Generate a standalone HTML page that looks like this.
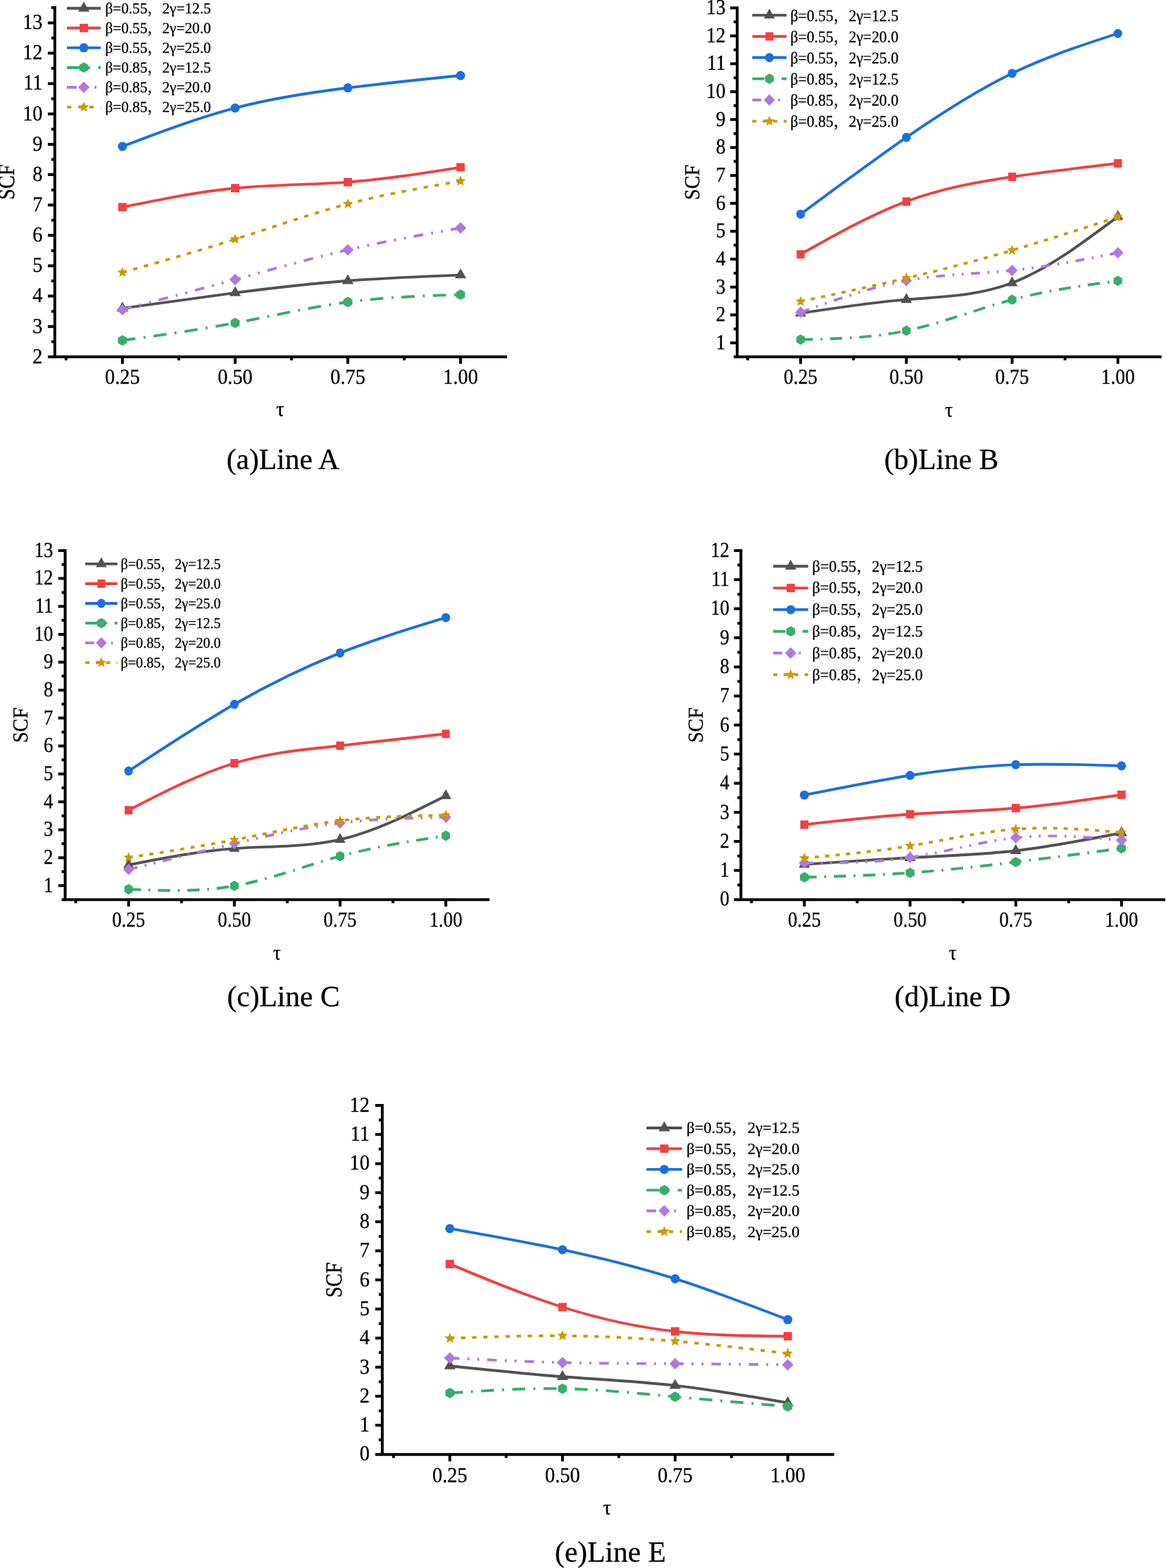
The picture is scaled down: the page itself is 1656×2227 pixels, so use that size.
<!DOCTYPE html>
<html lang="en">
<head>
<meta charset="utf-8">
<title>SCF versus τ along Lines A–E</title>
<style>
html,body{margin:0;padding:0;background:#fff;}
svg{display:block;font-family:"Liberation Serif","Noto Serif CJK SC","Noto Sans CJK SC",serif;fill:#000;}
text{stroke:#000;stroke-width:0.3px;stroke-linejoin:round;text-rendering:geometricPrecision;}
</style>
</head>
<body>
<svg width="1656" height="2227" viewBox="0 0 1656 2227">
<rect width="1656" height="2227" fill="#fff"/>
<g id="chart-a">
<path d="M173.89,437.9C227.25,430.33 280.61,422.76 333.97,415.9C387.33,409.04 440.69,402.9 494.04,398.8C547.4,394.7 600.76,392.65 654.12,390.6" fill="none" stroke="#515151" stroke-width="3.9"/>
<polygon points="173.89,428.49 182.04,442.61 165.74,442.61" fill="#515151"/>
<polygon points="333.97,406.49 342.12,420.61 325.82,420.61" fill="#515151"/>
<polygon points="494.04,389.39 502.19,403.51 485.89,403.51" fill="#515151"/>
<polygon points="654.12,381.19 662.27,395.31 645.97,395.31" fill="#515151"/>
<path d="M173.89,294.2C227.25,283.29 280.61,272.38 333.97,267.2C387.33,262.02 440.69,262.58 494.04,258.6C547.4,254.62 600.76,246.11 654.12,237.6" fill="none" stroke="#F14040" stroke-width="3.9"/>
<polygon points="167.94,288.25 179.84,288.25 179.84,300.15 167.94,300.15" fill="#F14040"/>
<polygon points="328.02,261.25 339.92,261.25 339.92,273.15 328.02,273.15" fill="#F14040"/>
<polygon points="488.09,252.65 499.99,252.65 499.99,264.55 488.09,264.55" fill="#F14040"/>
<polygon points="648.17,231.65 660.07,231.65 660.07,243.55 648.17,243.55" fill="#F14040"/>
<path d="M173.89,208C227.25,187.74 280.61,167.47 333.97,153.4C387.33,139.33 440.69,131.45 494.04,124.8C547.4,118.15 600.76,112.72 654.12,107.3" fill="none" stroke="#1A6FDF" stroke-width="3.9"/>
<ellipse cx="173.89" cy="208" rx="6.5" ry="6.5" fill="#1A6FDF"/>
<ellipse cx="333.97" cy="153.4" rx="6.5" ry="6.5" fill="#1A6FDF"/>
<ellipse cx="494.04" cy="124.8" rx="6.5" ry="6.5" fill="#1A6FDF"/>
<ellipse cx="654.12" cy="107.3" rx="6.5" ry="6.5" fill="#1A6FDF"/>
<path d="M173.89,483.5C227.25,476.1 280.61,468.69 333.97,458.7C387.33,448.71 440.69,436.13 494.04,429C547.4,421.87 600.76,420.18 654.12,418.5" fill="none" stroke="#37AD6B" stroke-width="3.9" stroke-dasharray="18.6 11.6 2.8 11.6"/>
<polygon points="173.89,476.1 180.3,479.8 180.3,487.2 173.89,490.9 167.49,487.2 167.49,479.8" fill="#37AD6B"/>
<polygon points="333.97,451.3 340.38,455 340.38,462.4 333.97,466.1 327.56,462.4 327.56,455" fill="#37AD6B"/>
<polygon points="494.04,421.6 500.45,425.3 500.45,432.7 494.04,436.4 487.64,432.7 487.64,425.3" fill="#37AD6B"/>
<polygon points="654.12,411.1 660.53,414.8 660.53,422.2 654.12,425.9 647.71,422.2 647.71,414.8" fill="#37AD6B"/>
<path d="M173.89,439.9C227.25,425.77 280.61,411.65 333.97,397C387.33,382.35 440.69,367.19 494.04,354.9C547.4,342.61 600.76,333.21 654.12,323.8" fill="none" stroke="#B177DE" stroke-width="3.9" stroke-dasharray="13.7 11.35 2.8 11.35 2.8 11.35"/>
<polygon points="173.89,431.7 182.09,439.9 173.89,448.1 165.69,439.9" fill="#B177DE"/>
<polygon points="333.97,388.8 342.17,397 333.97,405.2 325.77,397" fill="#B177DE"/>
<polygon points="494.04,346.7 502.24,354.9 494.04,363.1 485.84,354.9" fill="#B177DE"/>
<polygon points="654.12,315.6 662.32,323.8 654.12,332 645.92,323.8" fill="#B177DE"/>
<path d="M173.89,387C227.25,371.91 280.61,356.83 333.97,339.8C387.33,322.77 440.69,303.81 494.04,289.7C547.4,275.59 600.76,266.35 654.12,257.1" fill="none" stroke="#CC9900" stroke-width="3.9" stroke-dasharray="6.3 9.58"/>
<polygon points="173.89,379.1 175.98,384.12 181.41,384.56 177.28,388.1 178.54,393.39 173.89,390.56 169.25,393.39 170.51,388.1 166.38,384.56 171.81,384.12" fill="#CC9900"/>
<polygon points="333.97,331.9 336.06,336.92 341.48,337.36 337.35,340.9 338.61,346.19 333.97,343.36 329.33,346.19 330.59,340.9 326.46,337.36 331.88,336.92" fill="#CC9900"/>
<polygon points="494.04,281.8 496.13,286.82 501.56,287.26 497.43,290.8 498.69,296.09 494.04,293.25 489.4,296.09 490.66,290.8 486.53,287.26 491.96,286.82" fill="#CC9900"/>
<polygon points="654.12,249.2 656.21,254.22 661.63,254.66 657.5,258.2 658.76,263.49 654.12,260.66 649.48,263.49 650.74,258.2 646.61,254.66 652.03,254.22" fill="#CC9900"/>
<g stroke="#000" stroke-width="4" fill="none">
<path d="M77.85,8.86 V506.85 H720.15"/>
<path d="M77.85,506.85 h-9.9M77.85,485.29 h-5M77.85,463.72 h-9.9M77.85,442.16 h-5M77.85,420.59 h-9.9M77.85,399.03 h-5M77.85,377.46 h-9.9M77.85,355.89 h-5M77.85,334.33 h-9.9M77.85,312.76 h-5M77.85,291.2 h-9.9M77.85,269.63 h-5M77.85,248.07 h-9.9M77.85,226.5 h-5M77.85,204.94 h-9.9M77.85,183.38 h-5M77.85,161.81 h-9.9M77.85,140.25 h-5M77.85,118.68 h-9.9M77.85,97.12 h-5M77.85,75.55 h-9.9M77.85,53.99 h-5M77.85,32.42 h-9.9M77.85,10.86 h-5M93.86,506.85 v5M173.89,506.85 v9.9M253.93,506.85 v5M333.97,506.85 v9.9M414.01,506.85 v5M494.04,506.85 v9.9M574.08,506.85 v5M654.12,506.85 v9.9"/>
</g>
<text transform="translate(60.5,515.65) scale(0.9350,1)" font-size="30.3" text-anchor="end">2</text>
<text transform="translate(60.5,472.52) scale(0.9350,1)" font-size="30.3" text-anchor="end">3</text>
<text transform="translate(60.5,429.39) scale(0.9350,1)" font-size="30.3" text-anchor="end">4</text>
<text transform="translate(60.5,386.26) scale(0.9350,1)" font-size="30.3" text-anchor="end">5</text>
<text transform="translate(60.5,343.13) scale(0.9350,1)" font-size="30.3" text-anchor="end">6</text>
<text transform="translate(60.5,300) scale(0.9350,1)" font-size="30.3" text-anchor="end">7</text>
<text transform="translate(60.5,256.87) scale(0.9350,1)" font-size="30.3" text-anchor="end">8</text>
<text transform="translate(60.5,213.74) scale(0.9350,1)" font-size="30.3" text-anchor="end">9</text>
<text transform="translate(60.5,170.61) scale(0.9350,1)" font-size="30.3" text-anchor="end">10</text>
<text transform="translate(60.5,127.48) scale(0.9350,1)" font-size="30.3" text-anchor="end">11</text>
<text transform="translate(60.5,84.35) scale(0.9350,1)" font-size="30.3" text-anchor="end">12</text>
<text transform="translate(60.5,41.22) scale(0.9350,1)" font-size="30.3" text-anchor="end">13</text>
<text transform="translate(173.89,545.3) scale(0.9350,1)" font-size="30.3" text-anchor="middle">0.25</text>
<text transform="translate(333.97,545.3) scale(0.9350,1)" font-size="30.3" text-anchor="middle">0.50</text>
<text transform="translate(494.04,545.3) scale(0.9350,1)" font-size="30.3" text-anchor="middle">0.75</text>
<text transform="translate(654.12,545.3) scale(0.9350,1)" font-size="30.3" text-anchor="middle">1.00</text>
<text transform="translate(398,591.4) scale(0.9350,1)" font-size="30.3" text-anchor="middle">τ</text>
<text transform="translate(20.3,258.6) rotate(-90) scale(0.9300,1.0700)" font-size="30.3" text-anchor="middle">SCF</text>
<text x="401.8" y="665.7" font-size="41.5" text-anchor="middle">(a)Line A</text>
<path d="M95,11.7 H143.1" fill="none" stroke="#515151" stroke-width="3.9"/>
<polygon points="119.05,2.29 127.2,16.41 110.9,16.41" fill="#515151"/>
<text transform="translate(149.4,18.95) scale(0.9780,1)" font-size="21.7" text-anchor="start">β=0.55，2γ=12.5</text>
<path d="M95,39.78 H143.1" fill="none" stroke="#F14040" stroke-width="3.9"/>
<polygon points="113.1,33.83 125,33.83 125,45.73 113.1,45.73" fill="#F14040"/>
<text transform="translate(149.4,47.03) scale(0.9780,1)" font-size="21.7" text-anchor="start">β=0.55，2γ=20.0</text>
<path d="M95,67.86 H143.1" fill="none" stroke="#1A6FDF" stroke-width="3.9"/>
<ellipse cx="119.05" cy="67.86" rx="6.5" ry="6.5" fill="#1A6FDF"/>
<text transform="translate(149.4,75.11) scale(0.9780,1)" font-size="21.7" text-anchor="start">β=0.55，2γ=25.0</text>
<path d="M95,95.94 H143.1" fill="none" stroke="#37AD6B" stroke-width="3.9" stroke-dasharray="18.6 11.6 2.8 11.6"/>
<polygon points="119.05,88.54 125.46,92.24 125.46,99.64 119.05,103.34 112.64,99.64 112.64,92.24" fill="#37AD6B"/>
<text transform="translate(149.4,103.19) scale(0.9780,1)" font-size="21.7" text-anchor="start">β=0.85，2γ=12.5</text>
<path d="M95,124.02 H143.1" fill="none" stroke="#B177DE" stroke-width="3.9" stroke-dasharray="13.7 11.35 2.8 11.35 2.8 11.35"/>
<polygon points="119.05,115.82 127.25,124.02 119.05,132.22 110.85,124.02" fill="#B177DE"/>
<text transform="translate(149.4,131.27) scale(0.9780,1)" font-size="21.7" text-anchor="start">β=0.85，2γ=20.0</text>
<path d="M95,152.1 H143.1" fill="none" stroke="#CC9900" stroke-width="3.9" stroke-dasharray="6.3 9.58"/>
<polygon points="119.05,144.2 121.14,149.22 126.56,149.66 122.43,153.2 123.69,158.49 119.05,155.65 114.41,158.49 115.67,153.2 111.54,149.66 116.96,149.22" fill="#CC9900"/>
<text transform="translate(149.4,159.35) scale(0.9780,1)" font-size="21.7" text-anchor="start">β=0.85，2γ=25.0</text>
</g>
<g id="chart-b">
<path d="M1137.07,444.9C1187.14,437.25 1237.2,429.6 1287.27,425.5C1337.34,421.4 1387.4,420.86 1437.47,401.8C1487.54,382.74 1537.6,345.17 1587.67,307.6" fill="none" stroke="#515151" stroke-width="3.9"/>
<polygon points="1137.07,435.49 1144.81,449.61 1129.33,449.61" fill="#515151"/>
<polygon points="1287.27,416.09 1295.01,430.21 1279.53,430.21" fill="#515151"/>
<polygon points="1437.47,392.39 1445.21,406.51 1429.73,406.51" fill="#515151"/>
<polygon points="1587.67,298.19 1595.41,312.31 1579.93,312.31" fill="#515151"/>
<path d="M1137.07,361.2C1187.14,333.01 1237.2,304.82 1287.27,286.2C1337.34,267.58 1387.4,258.54 1437.47,251.1C1487.54,243.66 1537.6,237.83 1587.67,232" fill="none" stroke="#F14040" stroke-width="3.9"/>
<polygon points="1131.42,355.25 1142.72,355.25 1142.72,367.15 1131.42,367.15" fill="#F14040"/>
<polygon points="1281.62,280.25 1292.92,280.25 1292.92,292.15 1281.62,292.15" fill="#F14040"/>
<polygon points="1431.82,245.15 1443.12,245.15 1443.12,257.05 1431.82,257.05" fill="#F14040"/>
<polygon points="1582.02,226.05 1593.32,226.05 1593.32,237.95 1582.02,237.95" fill="#F14040"/>
<path d="M1137.07,304.2C1187.14,266.98 1237.2,229.75 1287.27,195.1C1337.34,160.45 1387.4,128.37 1437.47,104.2C1487.54,80.03 1537.6,63.76 1587.67,47.5" fill="none" stroke="#1A6FDF" stroke-width="3.9"/>
<ellipse cx="1137.07" cy="304.2" rx="6.17" ry="6.5" fill="#1A6FDF"/>
<ellipse cx="1287.27" cy="195.1" rx="6.17" ry="6.5" fill="#1A6FDF"/>
<ellipse cx="1437.47" cy="104.2" rx="6.17" ry="6.5" fill="#1A6FDF"/>
<ellipse cx="1587.67" cy="47.5" rx="6.17" ry="6.5" fill="#1A6FDF"/>
<path d="M1137.07,482.3C1187.14,481.27 1237.2,480.25 1287.27,469.7C1337.34,459.15 1387.4,439.09 1437.47,425.7C1487.54,412.31 1537.6,405.61 1587.67,398.9" fill="none" stroke="#37AD6B" stroke-width="3.9" stroke-dasharray="17.39 10.85 2.62 10.85"/>
<polygon points="1137.07,474.9 1143.16,478.6 1143.16,486 1137.07,489.7 1130.98,486 1130.98,478.6" fill="#37AD6B"/>
<polygon points="1287.27,462.3 1293.36,466 1293.36,473.4 1287.27,477.1 1281.18,473.4 1281.18,466" fill="#37AD6B"/>
<polygon points="1437.47,418.3 1443.56,422 1443.56,429.4 1437.47,433.1 1431.38,429.4 1431.38,422" fill="#37AD6B"/>
<polygon points="1587.67,391.5 1593.76,395.2 1593.76,402.6 1587.67,406.3 1581.58,402.6 1581.58,395.2" fill="#37AD6B"/>
<path d="M1137.07,443.6C1187.14,425.61 1237.2,407.63 1287.27,398.5C1337.34,389.37 1387.4,389.11 1437.47,384C1487.54,378.89 1537.6,368.95 1587.67,359" fill="none" stroke="#B177DE" stroke-width="3.9" stroke-dasharray="12.81 10.61 2.62 10.61 2.62 10.61"/>
<polygon points="1137.07,435.4 1144.86,443.6 1137.07,451.8 1129.28,443.6" fill="#B177DE"/>
<polygon points="1287.27,390.3 1295.06,398.5 1287.27,406.7 1279.48,398.5" fill="#B177DE"/>
<polygon points="1437.47,375.8 1445.26,384 1437.47,392.2 1429.68,384" fill="#B177DE"/>
<polygon points="1587.67,350.8 1595.46,359 1587.67,367.2 1579.88,359" fill="#B177DE"/>
<path d="M1137.07,428.1C1187.14,417.46 1237.2,406.82 1287.27,395C1337.34,383.18 1387.4,370.18 1437.47,355.5C1487.54,340.82 1537.6,324.46 1587.67,308.1" fill="none" stroke="#CC9900" stroke-width="3.9" stroke-dasharray="5.89 8.96"/>
<polygon points="1137.07,420.2 1139.06,425.22 1144.21,425.66 1140.28,429.2 1141.48,434.49 1137.07,431.66 1132.66,434.49 1133.86,429.2 1129.93,425.66 1135.08,425.22" fill="#CC9900"/>
<polygon points="1287.27,387.1 1289.26,392.12 1294.41,392.56 1290.48,396.1 1291.68,401.39 1287.27,398.56 1282.86,401.39 1284.06,396.1 1280.13,392.56 1285.28,392.12" fill="#CC9900"/>
<polygon points="1437.47,347.6 1439.46,352.62 1444.61,353.06 1440.68,356.6 1441.88,361.89 1437.47,359.06 1433.06,361.89 1434.26,356.6 1430.33,353.06 1435.48,352.62" fill="#CC9900"/>
<polygon points="1587.67,300.2 1589.66,305.22 1594.81,305.66 1590.88,309.2 1592.08,314.49 1587.67,311.66 1583.26,314.49 1584.46,309.2 1580.53,305.66 1585.68,305.22" fill="#CC9900"/>
<g stroke="#000" stroke-width="4" fill="none">
<path d="M1046.95,9.3 V506.8 H1649.75"/>
<path d="M1046.95,506.8 h-5M1046.95,486.98 h-9.9M1046.95,467.16 h-5M1046.95,447.34 h-9.9M1046.95,427.52 h-5M1046.95,407.7 h-9.9M1046.95,387.88 h-5M1046.95,368.06 h-9.9M1046.95,348.24 h-5M1046.95,328.42 h-9.9M1046.95,308.6 h-5M1046.95,288.78 h-9.9M1046.95,268.96 h-5M1046.95,249.14 h-9.9M1046.95,229.32 h-5M1046.95,209.5 h-9.9M1046.95,189.68 h-5M1046.95,169.86 h-9.9M1046.95,150.04 h-5M1046.95,130.22 h-9.9M1046.95,110.4 h-5M1046.95,90.58 h-9.9M1046.95,70.76 h-5M1046.95,50.94 h-9.9M1046.95,31.12 h-5M1046.95,11.3 h-9.9M1061.97,506.8 v5M1137.07,506.8 v9.9M1212.17,506.8 v5M1287.27,506.8 v9.9M1362.37,506.8 v5M1437.47,506.8 v9.9M1512.57,506.8 v5M1587.67,506.8 v9.9"/>
</g>
<text transform="translate(1030.5,495.78) scale(0.9050,1)" font-size="30.3" text-anchor="end">1</text>
<text transform="translate(1030.5,456.14) scale(0.9050,1)" font-size="30.3" text-anchor="end">2</text>
<text transform="translate(1030.5,416.5) scale(0.9050,1)" font-size="30.3" text-anchor="end">3</text>
<text transform="translate(1030.5,376.86) scale(0.9050,1)" font-size="30.3" text-anchor="end">4</text>
<text transform="translate(1030.5,337.22) scale(0.9050,1)" font-size="30.3" text-anchor="end">5</text>
<text transform="translate(1030.5,297.58) scale(0.9050,1)" font-size="30.3" text-anchor="end">6</text>
<text transform="translate(1030.5,257.94) scale(0.9050,1)" font-size="30.3" text-anchor="end">7</text>
<text transform="translate(1030.5,218.3) scale(0.9050,1)" font-size="30.3" text-anchor="end">8</text>
<text transform="translate(1030.5,178.66) scale(0.9050,1)" font-size="30.3" text-anchor="end">9</text>
<text transform="translate(1030.5,139.02) scale(0.9050,1)" font-size="30.3" text-anchor="end">10</text>
<text transform="translate(1030.5,99.38) scale(0.9050,1)" font-size="30.3" text-anchor="end">11</text>
<text transform="translate(1030.5,59.74) scale(0.9050,1)" font-size="30.3" text-anchor="end">12</text>
<text transform="translate(1030.5,20.1) scale(0.9050,1)" font-size="30.3" text-anchor="end">13</text>
<text transform="translate(1137.07,545.3) scale(0.9050,1)" font-size="30.3" text-anchor="middle">0.25</text>
<text transform="translate(1287.27,545.3) scale(0.9050,1)" font-size="30.3" text-anchor="middle">0.50</text>
<text transform="translate(1437.47,545.3) scale(0.9050,1)" font-size="30.3" text-anchor="middle">0.75</text>
<text transform="translate(1587.67,545.3) scale(0.9050,1)" font-size="30.3" text-anchor="middle">1.00</text>
<text transform="translate(1347.7,592.2) scale(0.9050,1)" font-size="30.3" text-anchor="middle">τ</text>
<text transform="translate(992.9,258.9) rotate(-90) scale(0.9300,1.0000)" font-size="30.3" text-anchor="middle">SCF</text>
<text x="1337" y="665.7" font-size="41.5" text-anchor="middle">(b)Line B</text>
<path d="M1068.4,21.6 H1117.1" fill="none" stroke="#515151" stroke-width="3.9"/>
<polygon points="1092.75,12.19 1100.49,26.31 1085.01,26.31" fill="#515151"/>
<text transform="translate(1122.5,29.5) scale(0.9350,1)" font-size="23.2" text-anchor="start">β=0.55，2γ=12.5</text>
<path d="M1068.4,51.7 H1117.1" fill="none" stroke="#F14040" stroke-width="3.9"/>
<polygon points="1087.1,45.75 1098.4,45.75 1098.4,57.65 1087.1,57.65" fill="#F14040"/>
<text transform="translate(1122.5,59.6) scale(0.9350,1)" font-size="23.2" text-anchor="start">β=0.55，2γ=20.0</text>
<path d="M1068.4,81.8 H1117.1" fill="none" stroke="#1A6FDF" stroke-width="3.9"/>
<ellipse cx="1092.75" cy="81.8" rx="6.17" ry="6.5" fill="#1A6FDF"/>
<text transform="translate(1122.5,89.7) scale(0.9350,1)" font-size="23.2" text-anchor="start">β=0.55，2γ=25.0</text>
<path d="M1068.4,111.9 H1117.1" fill="none" stroke="#37AD6B" stroke-width="3.9" stroke-dasharray="17.39 10.85 2.62 10.85"/>
<polygon points="1092.75,104.5 1098.84,108.2 1098.84,115.6 1092.75,119.3 1086.66,115.6 1086.66,108.2" fill="#37AD6B"/>
<text transform="translate(1122.5,119.8) scale(0.9350,1)" font-size="23.2" text-anchor="start">β=0.85，2γ=12.5</text>
<path d="M1068.4,142 H1117.1" fill="none" stroke="#B177DE" stroke-width="3.9" stroke-dasharray="12.81 10.61 2.62 10.61 2.62 10.61"/>
<polygon points="1092.75,133.8 1100.54,142 1092.75,150.2 1084.96,142" fill="#B177DE"/>
<text transform="translate(1122.5,149.9) scale(0.9350,1)" font-size="23.2" text-anchor="start">β=0.85，2γ=20.0</text>
<path d="M1068.4,172.1 H1117.1" fill="none" stroke="#CC9900" stroke-width="3.9" stroke-dasharray="5.89 8.96"/>
<polygon points="1092.75,164.2 1094.74,169.22 1099.89,169.66 1095.96,173.2 1097.16,178.49 1092.75,175.66 1088.34,178.49 1089.54,173.2 1085.61,169.66 1090.76,169.22" fill="#CC9900"/>
<text transform="translate(1122.5,180) scale(0.9350,1)" font-size="23.2" text-anchor="start">β=0.85，2γ=25.0</text>
</g>
<g id="chart-c">
<path d="M182.66,1228.5C232.71,1218.65 282.77,1208.8 332.83,1205.1C382.89,1201.4 432.95,1203.86 483.01,1192.4C533.06,1180.94 583.12,1155.57 633.18,1130.2" fill="none" stroke="#515151" stroke-width="3.9"/>
<polygon points="182.66,1219.09 190.32,1233.21 174.99,1233.21" fill="#515151"/>
<polygon points="332.83,1195.69 340.49,1209.81 325.17,1209.81" fill="#515151"/>
<polygon points="483.01,1182.99 490.67,1197.11 475.34,1197.11" fill="#515151"/>
<polygon points="633.18,1120.79 640.84,1134.91 625.52,1134.91" fill="#515151"/>
<path d="M182.66,1150.7C232.71,1124.93 282.77,1099.16 332.83,1084C382.89,1068.84 432.95,1064.28 483.01,1059.1C533.06,1053.92 583.12,1048.11 633.18,1042.3" fill="none" stroke="#F14040" stroke-width="3.9"/>
<polygon points="177.06,1144.75 188.25,1144.75 188.25,1156.65 177.06,1156.65" fill="#F14040"/>
<polygon points="327.24,1078.05 338.42,1078.05 338.42,1089.95 327.24,1089.95" fill="#F14040"/>
<polygon points="477.41,1053.15 488.6,1053.15 488.6,1065.05 477.41,1065.05" fill="#F14040"/>
<polygon points="627.59,1036.35 638.77,1036.35 638.77,1048.25 627.59,1048.25" fill="#F14040"/>
<path d="M182.66,1095.1C232.71,1062.06 282.77,1029.02 332.83,1000.3C382.89,971.58 432.95,947.2 483.01,927.4C533.06,907.6 583.12,892.4 633.18,877.2" fill="none" stroke="#1A6FDF" stroke-width="3.9"/>
<ellipse cx="182.66" cy="1095.1" rx="6.11" ry="6.5" fill="#1A6FDF"/>
<ellipse cx="332.83" cy="1000.3" rx="6.11" ry="6.5" fill="#1A6FDF"/>
<ellipse cx="483.01" cy="927.4" rx="6.11" ry="6.5" fill="#1A6FDF"/>
<ellipse cx="633.18" cy="877.2" rx="6.11" ry="6.5" fill="#1A6FDF"/>
<path d="M182.66,1263C232.71,1265.02 282.77,1267.04 332.83,1258.2C382.89,1249.36 432.95,1229.68 483.01,1216C533.06,1202.32 583.12,1194.66 633.18,1187" fill="none" stroke="#37AD6B" stroke-width="3.9" stroke-dasharray="17.39 10.85 2.62 10.85"/>
<polygon points="182.66,1255.6 188.68,1259.3 188.68,1266.7 182.66,1270.4 176.63,1266.7 176.63,1259.3" fill="#37AD6B"/>
<polygon points="332.83,1250.8 338.85,1254.5 338.85,1261.9 332.83,1265.6 326.81,1261.9 326.81,1254.5" fill="#37AD6B"/>
<polygon points="483.01,1208.6 489.03,1212.3 489.03,1219.7 483.01,1223.4 476.98,1219.7 476.98,1212.3" fill="#37AD6B"/>
<polygon points="633.18,1179.6 639.2,1183.3 639.2,1190.7 633.18,1194.4 627.16,1190.7 627.16,1183.3" fill="#37AD6B"/>
<path d="M182.66,1234.9C232.71,1222.43 282.77,1209.95 332.83,1198.1C382.89,1186.25 432.95,1175.01 483.01,1168.9C533.06,1162.79 583.12,1161.79 633.18,1160.8" fill="none" stroke="#B177DE" stroke-width="3.9" stroke-dasharray="12.81 10.61 2.62 10.61 2.62 10.61"/>
<polygon points="182.66,1226.7 190.36,1234.9 182.66,1243.1 174.95,1234.9" fill="#B177DE"/>
<polygon points="332.83,1189.9 340.54,1198.1 332.83,1206.3 325.12,1198.1" fill="#B177DE"/>
<polygon points="483.01,1160.7 490.71,1168.9 483.01,1177.1 475.3,1168.9" fill="#B177DE"/>
<polygon points="633.18,1152.6 640.89,1160.8 633.18,1169 625.47,1160.8" fill="#B177DE"/>
<path d="M182.66,1218C232.71,1210.2 282.77,1202.4 332.83,1192.8C382.89,1183.2 432.95,1171.82 483.01,1165.7C533.06,1159.58 583.12,1158.74 633.18,1157.9" fill="none" stroke="#CC9900" stroke-width="3.9" stroke-dasharray="5.89 8.96"/>
<polygon points="182.66,1210.1 184.62,1215.12 189.72,1215.56 185.83,1219.1 187.02,1224.39 182.66,1221.56 178.29,1224.39 179.48,1219.1 175.59,1215.56 180.69,1215.12" fill="#CC9900"/>
<polygon points="332.83,1184.9 334.79,1189.92 339.89,1190.36 336.01,1193.9 337.19,1199.19 332.83,1196.36 328.47,1199.19 329.65,1193.9 325.77,1190.36 330.87,1189.92" fill="#CC9900"/>
<polygon points="483.01,1157.8 484.97,1162.82 490.07,1163.26 486.18,1166.8 487.37,1172.09 483.01,1169.26 478.64,1172.09 479.83,1166.8 475.94,1163.26 481.04,1162.82" fill="#CC9900"/>
<polygon points="633.18,1150 635.14,1155.02 640.24,1155.46 636.36,1159 637.54,1164.29 633.18,1161.46 628.82,1164.29 630,1159 626.12,1155.46 631.22,1155.02" fill="#CC9900"/>
<g stroke="#000" stroke-width="4" fill="none">
<path d="M92.55,779.9 V1277.65 H695.25"/>
<path d="M92.55,1277.65 h-5M92.55,1257.82 h-9.9M92.55,1237.99 h-5M92.55,1218.16 h-9.9M92.55,1198.33 h-5M92.55,1178.5 h-9.9M92.55,1158.67 h-5M92.55,1138.84 h-9.9M92.55,1119.01 h-5M92.55,1099.18 h-9.9M92.55,1079.35 h-5M92.55,1059.52 h-9.9M92.55,1039.69 h-5M92.55,1019.86 h-9.9M92.55,1000.03 h-5M92.55,980.2 h-9.9M92.55,960.37 h-5M92.55,940.54 h-9.9M92.55,920.71 h-5M92.55,900.88 h-9.9M92.55,881.05 h-5M92.55,861.22 h-9.9M92.55,841.39 h-5M92.55,821.56 h-9.9M92.55,801.73 h-5M92.55,781.9 h-9.9M107.57,1277.65 v5M182.66,1277.65 v9.9M257.74,1277.65 v5M332.83,1277.65 v9.9M407.92,1277.65 v5M483.01,1277.65 v9.9M558.09,1277.65 v5M633.18,1277.65 v9.9"/>
</g>
<text transform="translate(75.5,1266.62) scale(0.8850,1)" font-size="30.3" text-anchor="end">1</text>
<text transform="translate(75.5,1226.96) scale(0.8850,1)" font-size="30.3" text-anchor="end">2</text>
<text transform="translate(75.5,1187.3) scale(0.8850,1)" font-size="30.3" text-anchor="end">3</text>
<text transform="translate(75.5,1147.64) scale(0.8850,1)" font-size="30.3" text-anchor="end">4</text>
<text transform="translate(75.5,1107.98) scale(0.8850,1)" font-size="30.3" text-anchor="end">5</text>
<text transform="translate(75.5,1068.32) scale(0.8850,1)" font-size="30.3" text-anchor="end">6</text>
<text transform="translate(75.5,1028.66) scale(0.8850,1)" font-size="30.3" text-anchor="end">7</text>
<text transform="translate(75.5,989) scale(0.8850,1)" font-size="30.3" text-anchor="end">8</text>
<text transform="translate(75.5,949.34) scale(0.8850,1)" font-size="30.3" text-anchor="end">9</text>
<text transform="translate(75.5,909.68) scale(0.8850,1)" font-size="30.3" text-anchor="end">10</text>
<text transform="translate(75.5,870.02) scale(0.8850,1)" font-size="30.3" text-anchor="end">11</text>
<text transform="translate(75.5,830.36) scale(0.8850,1)" font-size="30.3" text-anchor="end">12</text>
<text transform="translate(75.5,790.7) scale(0.8850,1)" font-size="30.3" text-anchor="end">13</text>
<text transform="translate(182.66,1315.9) scale(0.8850,1)" font-size="30.3" text-anchor="middle">0.25</text>
<text transform="translate(332.83,1315.9) scale(0.8850,1)" font-size="30.3" text-anchor="middle">0.50</text>
<text transform="translate(483.01,1315.9) scale(0.8850,1)" font-size="30.3" text-anchor="middle">0.75</text>
<text transform="translate(633.18,1315.9) scale(0.8850,1)" font-size="30.3" text-anchor="middle">1.00</text>
<text transform="translate(393.3,1363.3) scale(0.8850,1)" font-size="30.3" text-anchor="middle">τ</text>
<text transform="translate(38.6,1030) rotate(-90) scale(0.9300,1.0000)" font-size="30.3" text-anchor="middle">SCF</text>
<text x="402.5" y="1429.4" font-size="41.5" text-anchor="middle">(c)Line C</text>
<path d="M121.1,800.9 H166.7" fill="none" stroke="#515151" stroke-width="3.9"/>
<polygon points="143.9,791.49 151.56,805.61 136.24,805.61" fill="#515151"/>
<text transform="translate(171.6,807.9) scale(0.9400,1)" font-size="21.35" text-anchor="start">β=0.55，2γ=12.5</text>
<path d="M121.1,828.95 H166.7" fill="none" stroke="#F14040" stroke-width="3.9"/>
<polygon points="138.31,823 149.49,823 149.49,834.9 138.31,834.9" fill="#F14040"/>
<text transform="translate(171.6,835.95) scale(0.9400,1)" font-size="21.35" text-anchor="start">β=0.55，2γ=20.0</text>
<path d="M121.1,857 H166.7" fill="none" stroke="#1A6FDF" stroke-width="3.9"/>
<ellipse cx="143.9" cy="857" rx="6.11" ry="6.5" fill="#1A6FDF"/>
<text transform="translate(171.6,864) scale(0.9400,1)" font-size="21.35" text-anchor="start">β=0.55，2γ=25.0</text>
<path d="M121.1,885.05 H166.7" fill="none" stroke="#37AD6B" stroke-width="3.9" stroke-dasharray="17.39 10.85 2.62 10.85"/>
<polygon points="143.9,877.65 149.92,881.35 149.92,888.75 143.9,892.45 137.88,888.75 137.88,881.35" fill="#37AD6B"/>
<text transform="translate(171.6,892.05) scale(0.9400,1)" font-size="21.35" text-anchor="start">β=0.85，2γ=12.5</text>
<path d="M121.1,913.1 H166.7" fill="none" stroke="#B177DE" stroke-width="3.9" stroke-dasharray="12.81 10.61 2.62 10.61 2.62 10.61"/>
<polygon points="143.9,904.9 151.61,913.1 143.9,921.3 136.19,913.1" fill="#B177DE"/>
<text transform="translate(171.6,920.1) scale(0.9400,1)" font-size="21.35" text-anchor="start">β=0.85，2γ=20.0</text>
<path d="M121.1,941.15 H166.7" fill="none" stroke="#CC9900" stroke-width="3.9" stroke-dasharray="5.89 8.96"/>
<polygon points="143.9,933.25 145.86,938.27 150.96,938.71 147.08,942.25 148.26,947.54 143.9,944.7 139.54,947.54 140.72,942.25 136.84,938.71 141.94,938.27" fill="#CC9900"/>
<text transform="translate(171.6,948.15) scale(0.9400,1)" font-size="21.35" text-anchor="start">β=0.85，2γ=25.0</text>
</g>
<g id="chart-d">
<path d="M1142.39,1227.8C1192.44,1224.3 1242.49,1220.8 1292.54,1218.2C1342.59,1215.6 1392.64,1213.92 1442.69,1208.2C1492.74,1202.48 1542.79,1192.74 1592.84,1183" fill="none" stroke="#515151" stroke-width="3.9"/>
<polygon points="1142.39,1218.39 1150.38,1232.51 1134.4,1232.51" fill="#515151"/>
<polygon points="1292.54,1208.79 1300.53,1222.91 1284.55,1222.91" fill="#515151"/>
<polygon points="1442.69,1198.79 1450.68,1212.91 1434.7,1212.91" fill="#515151"/>
<polygon points="1592.84,1173.59 1600.83,1187.71 1584.85,1187.71" fill="#515151"/>
<path d="M1142.39,1171.2C1192.44,1165.55 1242.49,1159.9 1292.54,1156.5C1342.59,1153.1 1392.64,1151.94 1442.69,1147.7C1492.74,1143.46 1542.79,1136.13 1592.84,1128.8" fill="none" stroke="#F14040" stroke-width="3.9"/>
<polygon points="1136.56,1165.25 1148.22,1165.25 1148.22,1177.15 1136.56,1177.15" fill="#F14040"/>
<polygon points="1286.71,1150.55 1298.37,1150.55 1298.37,1162.45 1286.71,1162.45" fill="#F14040"/>
<polygon points="1436.86,1141.75 1448.52,1141.75 1448.52,1153.65 1436.86,1153.65" fill="#F14040"/>
<polygon points="1587.01,1122.85 1598.67,1122.85 1598.67,1134.75 1587.01,1134.75" fill="#F14040"/>
<path d="M1142.39,1129.2C1192.44,1119.14 1242.49,1109.09 1292.54,1101.3C1342.59,1093.51 1392.64,1087.99 1442.69,1086.1C1492.74,1084.21 1542.79,1085.96 1592.84,1087.7" fill="none" stroke="#1A6FDF" stroke-width="3.9"/>
<ellipse cx="1142.39" cy="1129.2" rx="6.37" ry="6.5" fill="#1A6FDF"/>
<ellipse cx="1292.54" cy="1101.3" rx="6.37" ry="6.5" fill="#1A6FDF"/>
<ellipse cx="1442.69" cy="1086.1" rx="6.37" ry="6.5" fill="#1A6FDF"/>
<ellipse cx="1592.84" cy="1087.7" rx="6.37" ry="6.5" fill="#1A6FDF"/>
<path d="M1142.39,1246C1192.44,1244.57 1242.49,1243.13 1292.54,1239.6C1342.59,1236.07 1392.64,1230.43 1442.69,1224.3C1492.74,1218.17 1542.79,1211.53 1592.84,1204.9" fill="none" stroke="#37AD6B" stroke-width="3.9" stroke-dasharray="17.39 10.85 2.62 10.85"/>
<polygon points="1142.39,1238.6 1148.67,1242.3 1148.67,1249.7 1142.39,1253.4 1136.11,1249.7 1136.11,1242.3" fill="#37AD6B"/>
<polygon points="1292.54,1232.2 1298.82,1235.9 1298.82,1243.3 1292.54,1247 1286.26,1243.3 1286.26,1235.9" fill="#37AD6B"/>
<polygon points="1442.69,1216.9 1448.97,1220.6 1448.97,1228 1442.69,1231.7 1436.41,1228 1436.41,1220.6" fill="#37AD6B"/>
<polygon points="1592.84,1197.5 1599.12,1201.2 1599.12,1208.6 1592.84,1212.3 1586.56,1208.6 1586.56,1201.2" fill="#37AD6B"/>
<path d="M1142.39,1225.6C1192.44,1225.55 1242.49,1225.5 1292.54,1217.9C1342.59,1210.3 1392.64,1195.16 1442.69,1189.8C1492.74,1184.44 1542.79,1188.87 1592.84,1193.3" fill="none" stroke="#B177DE" stroke-width="3.9" stroke-dasharray="12.81 10.61 2.62 10.61 2.62 10.61"/>
<polygon points="1142.39,1217.4 1150.43,1225.6 1142.39,1233.8 1134.35,1225.6" fill="#B177DE"/>
<polygon points="1292.54,1209.7 1300.58,1217.9 1292.54,1226.1 1284.5,1217.9" fill="#B177DE"/>
<polygon points="1442.69,1181.6 1450.73,1189.8 1442.69,1198 1434.65,1189.8" fill="#B177DE"/>
<polygon points="1592.84,1185.1 1600.88,1193.3 1592.84,1201.5 1584.8,1193.3" fill="#B177DE"/>
<path d="M1142.39,1218.8C1192.44,1214.2 1242.49,1209.61 1292.54,1201.4C1342.59,1193.19 1392.64,1181.37 1442.69,1177.6C1492.74,1173.83 1542.79,1178.12 1592.84,1182.4" fill="none" stroke="#CC9900" stroke-width="3.9" stroke-dasharray="5.89 8.96"/>
<polygon points="1142.39,1210.9 1144.44,1215.92 1149.75,1216.36 1145.7,1219.9 1146.94,1225.19 1142.39,1222.36 1137.84,1225.19 1139.08,1219.9 1135.03,1216.36 1140.34,1215.92" fill="#CC9900"/>
<polygon points="1292.54,1193.5 1294.59,1198.52 1299.9,1198.96 1295.85,1202.5 1297.09,1207.79 1292.54,1204.96 1287.99,1207.79 1289.23,1202.5 1285.18,1198.96 1290.49,1198.52" fill="#CC9900"/>
<polygon points="1442.69,1169.7 1444.74,1174.72 1450.05,1175.16 1446,1178.7 1447.24,1183.99 1442.69,1181.15 1438.14,1183.99 1439.38,1178.7 1435.33,1175.16 1440.64,1174.72" fill="#CC9900"/>
<polygon points="1592.84,1174.5 1594.89,1179.52 1600.2,1179.96 1596.15,1183.5 1597.39,1188.79 1592.84,1185.96 1588.29,1188.79 1589.53,1183.5 1585.48,1179.96 1590.79,1179.52" fill="#CC9900"/>
<g stroke="#000" stroke-width="4" fill="none">
<path d="M1052.3,779.93 V1277.65 H1654.9"/>
<path d="M1052.3,1277.65 h-9.9M1052.3,1257 h-5M1052.3,1236.34 h-9.9M1052.3,1215.69 h-5M1052.3,1195.03 h-9.9M1052.3,1174.38 h-5M1052.3,1153.72 h-9.9M1052.3,1133.07 h-5M1052.3,1112.41 h-9.9M1052.3,1091.76 h-5M1052.3,1071.1 h-9.9M1052.3,1050.45 h-5M1052.3,1029.79 h-9.9M1052.3,1009.14 h-5M1052.3,988.48 h-9.9M1052.3,967.83 h-5M1052.3,947.17 h-9.9M1052.3,926.52 h-5M1052.3,905.86 h-9.9M1052.3,885.21 h-5M1052.3,864.55 h-9.9M1052.3,843.9 h-5M1052.3,823.24 h-9.9M1052.3,802.59 h-5M1052.3,781.93 h-9.9M1067.32,1277.65 v5M1142.39,1277.65 v9.9M1217.46,1277.65 v5M1292.54,1277.65 v9.9M1367.62,1277.65 v5M1442.69,1277.65 v9.9M1517.76,1277.65 v5M1592.84,1277.65 v9.9"/>
</g>
<text transform="translate(1036,1286.45) scale(0.8850,1)" font-size="30.3" text-anchor="end">0</text>
<text transform="translate(1036,1245.14) scale(0.8850,1)" font-size="30.3" text-anchor="end">1</text>
<text transform="translate(1036,1203.83) scale(0.8850,1)" font-size="30.3" text-anchor="end">2</text>
<text transform="translate(1036,1162.52) scale(0.8850,1)" font-size="30.3" text-anchor="end">3</text>
<text transform="translate(1036,1121.21) scale(0.8850,1)" font-size="30.3" text-anchor="end">4</text>
<text transform="translate(1036,1079.9) scale(0.8850,1)" font-size="30.3" text-anchor="end">5</text>
<text transform="translate(1036,1038.59) scale(0.8850,1)" font-size="30.3" text-anchor="end">6</text>
<text transform="translate(1036,997.28) scale(0.8850,1)" font-size="30.3" text-anchor="end">7</text>
<text transform="translate(1036,955.97) scale(0.8850,1)" font-size="30.3" text-anchor="end">8</text>
<text transform="translate(1036,914.66) scale(0.8850,1)" font-size="30.3" text-anchor="end">9</text>
<text transform="translate(1036,873.35) scale(0.8850,1)" font-size="30.3" text-anchor="end">10</text>
<text transform="translate(1036,832.04) scale(0.8850,1)" font-size="30.3" text-anchor="end">11</text>
<text transform="translate(1036,790.73) scale(0.8850,1)" font-size="30.3" text-anchor="end">12</text>
<text transform="translate(1142.39,1315.9) scale(0.8850,1)" font-size="30.3" text-anchor="middle">0.25</text>
<text transform="translate(1292.54,1315.9) scale(0.8850,1)" font-size="30.3" text-anchor="middle">0.50</text>
<text transform="translate(1442.69,1315.9) scale(0.8850,1)" font-size="30.3" text-anchor="middle">0.75</text>
<text transform="translate(1592.84,1315.9) scale(0.8850,1)" font-size="30.3" text-anchor="middle">1.00</text>
<text transform="translate(1353.2,1363.3) scale(0.8850,1)" font-size="30.3" text-anchor="middle">τ</text>
<text transform="translate(998.3,1030) rotate(-90) scale(0.9300,1.0000)" font-size="30.3" text-anchor="middle">SCF</text>
<text x="1353" y="1429.4" font-size="41.5" text-anchor="middle">(d)Line D</text>
<path d="M1098.1,804.3 H1147.9" fill="none" stroke="#515151" stroke-width="3.9"/>
<polygon points="1123,794.89 1130.99,809.01 1115.01,809.01" fill="#515151"/>
<text transform="translate(1153.4,811.65) scale(0.9750,1)" font-size="22.8" text-anchor="start">β=0.55，2γ=12.5</text>
<path d="M1098.1,835.1 H1147.9" fill="none" stroke="#F14040" stroke-width="3.9"/>
<polygon points="1117.17,829.15 1128.83,829.15 1128.83,841.05 1117.17,841.05" fill="#F14040"/>
<text transform="translate(1153.4,842.45) scale(0.9750,1)" font-size="22.8" text-anchor="start">β=0.55，2γ=20.0</text>
<path d="M1098.1,865.9 H1147.9" fill="none" stroke="#1A6FDF" stroke-width="3.9"/>
<ellipse cx="1123" cy="865.9" rx="6.37" ry="6.5" fill="#1A6FDF"/>
<text transform="translate(1153.4,873.25) scale(0.9750,1)" font-size="22.8" text-anchor="start">β=0.55，2γ=25.0</text>
<path d="M1098.1,896.7 H1147.9" fill="none" stroke="#37AD6B" stroke-width="3.9" stroke-dasharray="17.39 10.85 2.62 10.85"/>
<polygon points="1123,889.3 1129.28,893 1129.28,900.4 1123,904.1 1116.72,900.4 1116.72,893" fill="#37AD6B"/>
<text transform="translate(1153.4,904.05) scale(0.9750,1)" font-size="22.8" text-anchor="start">β=0.85，2γ=12.5</text>
<path d="M1098.1,927.5 H1147.9" fill="none" stroke="#B177DE" stroke-width="3.9" stroke-dasharray="12.81 10.61 2.62 10.61 2.62 10.61"/>
<polygon points="1123,919.3 1131.04,927.5 1123,935.7 1114.96,927.5" fill="#B177DE"/>
<text transform="translate(1153.4,934.85) scale(0.9750,1)" font-size="22.8" text-anchor="start">β=0.85，2γ=20.0</text>
<path d="M1098.1,958.3 H1147.9" fill="none" stroke="#CC9900" stroke-width="3.9" stroke-dasharray="5.89 8.96"/>
<polygon points="1123,950.4 1125.05,955.42 1130.36,955.86 1126.31,959.4 1127.55,964.69 1123,961.85 1118.45,964.69 1119.69,959.4 1115.64,955.86 1120.95,955.42" fill="#CC9900"/>
<text transform="translate(1153.4,965.65) scale(0.9750,1)" font-size="22.8" text-anchor="start">β=0.85，2γ=25.0</text>
</g>
<g id="chart-e">
<path d="M638.88,1940C692.21,1945.61 745.53,1951.21 798.86,1955.3C852.19,1959.39 905.51,1961.95 958.84,1967.9C1012.16,1973.85 1065.48,1983.17 1118.81,1992.5" fill="none" stroke="#515151" stroke-width="3.9"/>
<polygon points="638.88,1930.59 647.03,1944.71 630.74,1944.71" fill="#515151"/>
<polygon points="798.86,1945.89 807.01,1960.01 790.71,1960.01" fill="#515151"/>
<polygon points="958.84,1958.49 966.99,1972.61 950.69,1972.61" fill="#515151"/>
<polygon points="1118.81,1983.09 1126.96,1997.21 1110.66,1997.21" fill="#515151"/>
<path d="M638.88,1795.3C692.21,1817.46 745.53,1839.62 798.86,1856.5C852.19,1873.38 905.51,1885 958.84,1891C1012.16,1897 1065.48,1897.4 1118.81,1897.8" fill="none" stroke="#F14040" stroke-width="3.9"/>
<polygon points="632.93,1789.35 644.84,1789.35 644.84,1801.25 632.93,1801.25" fill="#F14040"/>
<polygon points="792.91,1850.55 804.81,1850.55 804.81,1862.45 792.91,1862.45" fill="#F14040"/>
<polygon points="952.88,1885.05 964.79,1885.05 964.79,1896.95 952.88,1896.95" fill="#F14040"/>
<polygon points="1112.86,1891.85 1124.76,1891.85 1124.76,1903.75 1112.86,1903.75" fill="#F14040"/>
<path d="M638.88,1744.9C692.21,1754.32 745.53,1763.74 798.86,1775C852.19,1786.26 905.51,1799.34 958.84,1816.2C1012.16,1833.06 1065.48,1853.68 1118.81,1874.3" fill="none" stroke="#1A6FDF" stroke-width="3.9"/>
<ellipse cx="638.88" cy="1744.9" rx="6.5" ry="6.5" fill="#1A6FDF"/>
<ellipse cx="798.86" cy="1775" rx="6.5" ry="6.5" fill="#1A6FDF"/>
<ellipse cx="958.84" cy="1816.2" rx="6.5" ry="6.5" fill="#1A6FDF"/>
<ellipse cx="1118.81" cy="1874.3" rx="6.5" ry="6.5" fill="#1A6FDF"/>
<path d="M638.88,1978.5C692.21,1974.91 745.53,1971.32 798.86,1972.3C852.19,1973.28 905.51,1978.84 958.84,1983.8C1012.16,1988.76 1065.48,1993.13 1118.81,1997.5" fill="none" stroke="#37AD6B" stroke-width="3.9" stroke-dasharray="18.51 11.54 2.79 11.54"/>
<polygon points="638.88,1971.1 645.29,1974.8 645.29,1982.2 638.88,1985.9 632.48,1982.2 632.48,1974.8" fill="#37AD6B"/>
<polygon points="798.86,1964.9 805.27,1968.6 805.27,1976 798.86,1979.7 792.45,1976 792.45,1968.6" fill="#37AD6B"/>
<polygon points="958.84,1976.4 965.24,1980.1 965.24,1987.5 958.84,1991.2 952.43,1987.5 952.43,1980.1" fill="#37AD6B"/>
<polygon points="1118.81,1990.1 1125.22,1993.8 1125.22,2001.2 1118.81,2004.9 1112.4,2001.2 1112.4,1993.8" fill="#37AD6B"/>
<path d="M638.88,1928.8C692.21,1931.35 745.53,1933.89 798.86,1935.2C852.19,1936.51 905.51,1936.57 958.84,1936.9C1012.16,1937.23 1065.48,1937.81 1118.81,1938.4" fill="none" stroke="#B177DE" stroke-width="3.9" stroke-dasharray="13.63 11.29 2.79 11.29 2.79 11.29"/>
<polygon points="638.88,1920.6 647.09,1928.8 638.88,1937 630.68,1928.8" fill="#B177DE"/>
<polygon points="798.86,1927 807.06,1935.2 798.86,1943.4 790.66,1935.2" fill="#B177DE"/>
<polygon points="958.84,1928.7 967.04,1936.9 958.84,1945.1 950.63,1936.9" fill="#B177DE"/>
<polygon points="1118.81,1930.2 1127.01,1938.4 1118.81,1946.6 1110.61,1938.4" fill="#B177DE"/>
<path d="M638.88,1900.8C692.21,1898.81 745.53,1896.83 798.86,1897.2C852.19,1897.57 905.51,1900.31 958.84,1904.9C1012.16,1909.49 1065.48,1915.95 1118.81,1922.4" fill="none" stroke="#CC9900" stroke-width="3.9" stroke-dasharray="6.27 9.53"/>
<polygon points="638.88,1892.9 640.97,1897.92 646.4,1898.36 642.27,1901.9 643.53,1907.19 638.88,1904.36 634.24,1907.19 635.5,1901.9 631.37,1898.36 636.8,1897.92" fill="#CC9900"/>
<polygon points="798.86,1889.3 800.95,1894.32 806.37,1894.76 802.24,1898.3 803.5,1903.59 798.86,1900.76 794.22,1903.59 795.48,1898.3 791.35,1894.76 796.77,1894.32" fill="#CC9900"/>
<polygon points="958.84,1897 960.92,1902.02 966.35,1902.46 962.22,1906 963.48,1911.29 958.84,1908.46 954.19,1911.29 955.45,1906 951.32,1902.46 956.75,1902.02" fill="#CC9900"/>
<polygon points="1118.81,1914.5 1120.9,1919.52 1126.32,1919.96 1122.19,1923.5 1123.45,1928.79 1118.81,1925.96 1114.17,1928.79 1115.43,1923.5 1111.3,1919.96 1116.72,1919.52" fill="#CC9900"/>
<g stroke="#000" stroke-width="4" fill="none">
<path d="M542.9,1568.05 V2065.65 H1184.8"/>
<path d="M542.9,2065.65 h-9.9M542.9,2045 h-5M542.9,2024.35 h-9.9M542.9,2003.7 h-5M542.9,1983.05 h-9.9M542.9,1962.4 h-5M542.9,1941.75 h-9.9M542.9,1921.1 h-5M542.9,1900.45 h-9.9M542.9,1879.8 h-5M542.9,1859.15 h-9.9M542.9,1838.5 h-5M542.9,1817.85 h-9.9M542.9,1797.2 h-5M542.9,1776.55 h-9.9M542.9,1755.9 h-5M542.9,1735.25 h-9.9M542.9,1714.6 h-5M542.9,1693.95 h-9.9M542.9,1673.3 h-5M542.9,1652.65 h-9.9M542.9,1632 h-5M542.9,1611.35 h-9.9M542.9,1590.7 h-5M542.9,1570.05 h-9.9M558.9,2065.65 v5M638.88,2065.65 v9.9M718.87,2065.65 v5M798.86,2065.65 v9.9M878.85,2065.65 v5M958.84,2065.65 v9.9M1038.82,2065.65 v5M1118.81,2065.65 v9.9"/>
</g>
<text transform="translate(525,2074.45) scale(0.9400,1)" font-size="30.3" text-anchor="end">0</text>
<text transform="translate(525,2033.15) scale(0.9400,1)" font-size="30.3" text-anchor="end">1</text>
<text transform="translate(525,1991.85) scale(0.9400,1)" font-size="30.3" text-anchor="end">2</text>
<text transform="translate(525,1950.55) scale(0.9400,1)" font-size="30.3" text-anchor="end">3</text>
<text transform="translate(525,1909.25) scale(0.9400,1)" font-size="30.3" text-anchor="end">4</text>
<text transform="translate(525,1867.95) scale(0.9400,1)" font-size="30.3" text-anchor="end">5</text>
<text transform="translate(525,1826.65) scale(0.9400,1)" font-size="30.3" text-anchor="end">6</text>
<text transform="translate(525,1785.35) scale(0.9400,1)" font-size="30.3" text-anchor="end">7</text>
<text transform="translate(525,1744.05) scale(0.9400,1)" font-size="30.3" text-anchor="end">8</text>
<text transform="translate(525,1702.75) scale(0.9400,1)" font-size="30.3" text-anchor="end">9</text>
<text transform="translate(525,1661.45) scale(0.9400,1)" font-size="30.3" text-anchor="end">10</text>
<text transform="translate(525,1620.15) scale(0.9400,1)" font-size="30.3" text-anchor="end">11</text>
<text transform="translate(525,1578.85) scale(0.9400,1)" font-size="30.3" text-anchor="end">12</text>
<text transform="translate(638.88,2104.5) scale(0.9400,1)" font-size="30.3" text-anchor="middle">0.25</text>
<text transform="translate(798.86,2104.5) scale(0.9400,1)" font-size="30.3" text-anchor="middle">0.50</text>
<text transform="translate(958.84,2104.5) scale(0.9400,1)" font-size="30.3" text-anchor="middle">0.75</text>
<text transform="translate(1118.81,2104.5) scale(0.9400,1)" font-size="30.3" text-anchor="middle">1.00</text>
<text transform="translate(862.3,2150.9) scale(0.9400,1)" font-size="30.3" text-anchor="middle">τ</text>
<text transform="translate(485.2,1818) rotate(-90) scale(0.9300,1.0800)" font-size="30.3" text-anchor="middle">SCF</text>
<text x="867" y="2217.8" font-size="41.5" text-anchor="middle">(e)Line E</text>
<path d="M918.2,1602 H968.7" fill="none" stroke="#515151" stroke-width="3.9"/>
<polygon points="943.45,1592.59 951.6,1606.71 935.3,1606.71" fill="#515151"/>
<text transform="translate(974.9,1609.3) scale(1.0270,1)" font-size="22.1" text-anchor="start">β=0.55，2γ=12.5</text>
<path d="M918.2,1631.45 H968.7" fill="none" stroke="#F14040" stroke-width="3.9"/>
<polygon points="937.5,1625.5 949.4,1625.5 949.4,1637.4 937.5,1637.4" fill="#F14040"/>
<text transform="translate(974.9,1638.75) scale(1.0270,1)" font-size="22.1" text-anchor="start">β=0.55，2γ=20.0</text>
<path d="M918.2,1660.9 H968.7" fill="none" stroke="#1A6FDF" stroke-width="3.9"/>
<ellipse cx="943.45" cy="1660.9" rx="6.5" ry="6.5" fill="#1A6FDF"/>
<text transform="translate(974.9,1668.2) scale(1.0270,1)" font-size="22.1" text-anchor="start">β=0.55，2γ=25.0</text>
<path d="M918.2,1690.35 H968.7" fill="none" stroke="#37AD6B" stroke-width="3.9" stroke-dasharray="18.51 11.54 2.79 11.54"/>
<polygon points="943.45,1682.95 949.86,1686.65 949.86,1694.05 943.45,1697.75 937.04,1694.05 937.04,1686.65" fill="#37AD6B"/>
<text transform="translate(974.9,1697.65) scale(1.0270,1)" font-size="22.1" text-anchor="start">β=0.85，2γ=12.5</text>
<path d="M918.2,1719.8 H968.7" fill="none" stroke="#B177DE" stroke-width="3.9" stroke-dasharray="13.63 11.29 2.79 11.29 2.79 11.29"/>
<polygon points="943.45,1711.6 951.65,1719.8 943.45,1728 935.25,1719.8" fill="#B177DE"/>
<text transform="translate(974.9,1727.1) scale(1.0270,1)" font-size="22.1" text-anchor="start">β=0.85，2γ=20.0</text>
<path d="M918.2,1749.25 H968.7" fill="none" stroke="#CC9900" stroke-width="3.9" stroke-dasharray="6.27 9.53"/>
<polygon points="943.45,1741.35 945.54,1746.37 950.96,1746.81 946.83,1750.35 948.09,1755.64 943.45,1752.81 938.81,1755.64 940.07,1750.35 935.94,1746.81 941.36,1746.37" fill="#CC9900"/>
<text transform="translate(974.9,1756.55) scale(1.0270,1)" font-size="22.1" text-anchor="start">β=0.85，2γ=25.0</text>
</g>
</svg>
</body>
</html>
